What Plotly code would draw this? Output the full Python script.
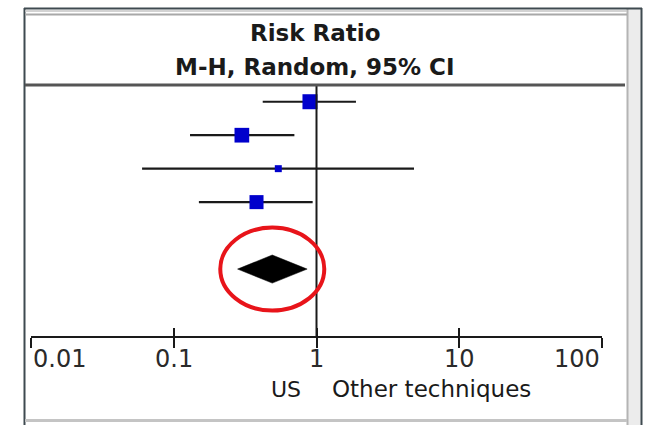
import math
import plotly.graph_objects as go

# ---- data ----
study_rows = [0, 1, 2, 3]
risk_ratio = [0.90, 0.30, 0.54, 0.38]
ci_lower = [0.42, 0.13, 0.06, 0.15]
ci_upper = [1.89, 0.70, 4.82, 0.94]
weights_pct = [32.8, 31.5, 7.1, 28.6]

pooled_row = 5
pooled_rr = 0.49
pooled_lower = 0.28
pooled_upper = 0.86

tick_values = [0.01, 0.1, 1, 10, 100]
tick_labels = ["0.01", "0.1", "1", "10", "100"]
header_lines = ["Risk Ratio", "M-H, Random, 95% CI"]
favours_left = "US"
favours_right = "Other techniques"

# ---- figure ----
W, H = 648, 425
L, R, T, B = 31, 46, 85, 89
PW, PH = W - L - R, H - T - B
FONT = "DejaVu Sans"
Y_TOP, Y_BOTTOM = -0.5, 7
LOG_MIN, LOG_MAX = math.log10(tick_values[0]), math.log10(tick_values[-1])


def px_x(px):
    return (px - L) / PW


def px_y(py):
    return (H - B - py) / PH


def data_to_paper_x(v):
    return (math.log10(v) - LOG_MIN) / (LOG_MAX - LOG_MIN)


def row_to_paper_y(r):
    return (Y_BOTTOM - r) / (Y_BOTTOM - Y_TOP)


fig = go.Figure()

# confidence interval lines
ci_x, ci_y = [], []
for lo, hi, r in zip(ci_lower, ci_upper, study_rows):
    ci_x += [lo, hi, None]
    ci_y += [r, r, None]
fig.add_trace(go.Scatter(x=ci_x, y=ci_y, mode="lines",
                         line=dict(color="#1a1a1a", width=2.2),
                         hoverinfo="skip", showlegend=False))

# study squares (area proportional to weight)
sizes = [2.62 * math.sqrt(w) for w in weights_pct]
fig.add_trace(go.Scatter(x=risk_ratio, y=study_rows, mode="markers",
                         marker=dict(symbol="square", size=sizes, color="#0000cc",
                                     opacity=1, line=dict(width=0)),
                         showlegend=False))

# pooled diamond
dh = 0.42
fig.add_trace(go.Scatter(
    x=[pooled_lower, pooled_rr, pooled_upper, pooled_rr, pooled_lower],
    y=[pooled_row, pooled_row - dh, pooled_row, pooled_row + dh, pooled_row],
    mode="lines", fill="toself", fillcolor="black",
    line=dict(color="black", width=0.5), showlegend=False))

# invisible trace for second (inside-tick) axis
fig.add_trace(go.Scatter(x=[tick_values[0], tick_values[-1]], y=[pooled_row, pooled_row],
                         xaxis="x2", mode="markers", marker=dict(opacity=0),
                         hoverinfo="skip", showlegend=False))

xr = [LOG_MIN, LOG_MAX]
fig.update_layout(
    width=W, height=H,
    margin=dict(l=L, r=R, t=T, b=B),
    paper_bgcolor="white", plot_bgcolor="white",
    font=dict(family=FONT, color="#1a1a1a"),
    xaxis=dict(type="log", range=xr, tickvals=tick_values, showticklabels=False,
               ticks="outside", ticklen=10, tickwidth=2, tickcolor="#1a1a1a",
               showline=True, linecolor="#1a1a1a", linewidth=2,
               showgrid=False, zeroline=False, fixedrange=True),
    xaxis2=dict(type="log", range=xr, tickvals=tick_values, showticklabels=False,
                ticks="inside", ticklen=8, tickwidth=2, tickcolor="#1a1a1a",
                overlaying="x", anchor="y", side="bottom", showline=False,
                showgrid=False, zeroline=False),
    yaxis=dict(range=[Y_BOTTOM, Y_TOP], visible=False, showgrid=False, zeroline=False),
)

shapes = []
# line of no effect
shapes.append(dict(type="line", xref="paper", yref="paper",
                   x0=data_to_paper_x(1), x1=data_to_paper_x(1), y0=0, y1=1,
                   line=dict(color="#1a1a1a", width=2)))
# highlight ellipse around pooled estimate
cx = data_to_paper_x(pooled_rr)
cy = row_to_paper_y(pooled_row)
rx, ry = 52 / PW, 41.5 / PH
shapes.append(dict(type="circle", xref="paper", yref="paper",
                   x0=cx - rx, x1=cx + rx, y0=cy - ry, y1=cy + ry,
                   line=dict(color="#e8141a", width=4)))
# frame
shapes.append(dict(type="rect", xref="paper", yref="paper",
                   x0=px_x(627), x1=px_x(642), y0=px_y(426), y1=px_y(8),
                   fillcolor="#ececec", line=dict(width=0), layer="below"))
shapes.append(dict(type="line", xref="paper", yref="paper",
                   x0=px_x(627.5), x1=px_x(627.5), y0=px_y(426), y1=px_y(9),
                   line=dict(color="#b4b4b4", width=2)))
shapes.append(dict(type="line", xref="paper", yref="paper",
                   x0=px_x(24.5), x1=px_x(24.5), y0=px_y(426), y1=px_y(8),
                   line=dict(color="#3f4a50", width=2)))
shapes.append(dict(type="line", xref="paper", yref="paper",
                   x0=px_x(641.5), x1=px_x(641.5), y0=px_y(426), y1=px_y(8),
                   line=dict(color="#3f4a50", width=2)))
shapes.append(dict(type="line", xref="paper", yref="paper",
                   x0=px_x(24), x1=px_x(642), y0=px_y(8.5), y1=px_y(8.5),
                   line=dict(color="#3f4a50", width=2)))
shapes.append(dict(type="line", xref="paper", yref="paper",
                   x0=px_x(25), x1=px_x(627), y0=px_y(11), y1=px_y(11),
                   line=dict(color="#c4c4c4", width=1.5)))
shapes.append(dict(type="line", xref="paper", yref="paper",
                   x0=px_x(25), x1=px_x(627), y0=px_y(14.5), y1=px_y(14.5),
                   line=dict(color="#a8a8a8", width=2)))
shapes.append(dict(type="line", xref="paper", yref="paper",
                   x0=px_x(25), x1=px_x(625), y0=px_y(85), y1=px_y(85),
                   line=dict(color="#555555", width=3)))
shapes.append(dict(type="line", xref="paper", yref="paper",
                   x0=px_x(25), x1=px_x(627), y0=px_y(420.5), y1=px_y(420.5),
                   line=dict(color="#c4c4c4", width=3)))
fig.update_layout(shapes=shapes)

ann = []
for txt, cyp in zip(header_lines, [33.5, 66.5]):
    ann.append(dict(text="<b>%s</b>" % txt, xref="paper", yref="paper",
                    x=px_x(315), y=px_y(cyp), xanchor="center", yanchor="middle",
                    showarrow=False, font=dict(size=23, family=FONT, color="#1a1a1a")))
for i, (tv, tl) in enumerate(zip(tick_values, tick_labels)):
    anchor = "left" if i == 0 else ("right" if i == len(tick_values) - 1 else "center")
    ann.append(dict(text=tl, xref="paper", yref="paper", x=data_to_paper_x(tv),
                    y=px_y(358.5), xanchor=anchor, yanchor="middle", showarrow=False,
                    font=dict(size=24, family=FONT, color="#2a2a2a")))
ann.append(dict(text=favours_left, xref="paper", yref="paper", x=data_to_paper_x(1),
                y=px_y(389), xanchor="right", yanchor="middle", xshift=-14,
                showarrow=False, font=dict(size=22, family=FONT, color="#1a1a1a")))
ann.append(dict(text=favours_right, xref="paper", yref="paper", x=data_to_paper_x(1),
                y=px_y(389), xanchor="left", yanchor="middle", xshift=13,
                showarrow=False, font=dict(size=23, family=FONT, color="#1a1a1a")))
fig.update_layout(annotations=ann)

fig.write_html("out.html", config={"displayModeBar": False},
               post_script="document.body.style.margin='0';")
